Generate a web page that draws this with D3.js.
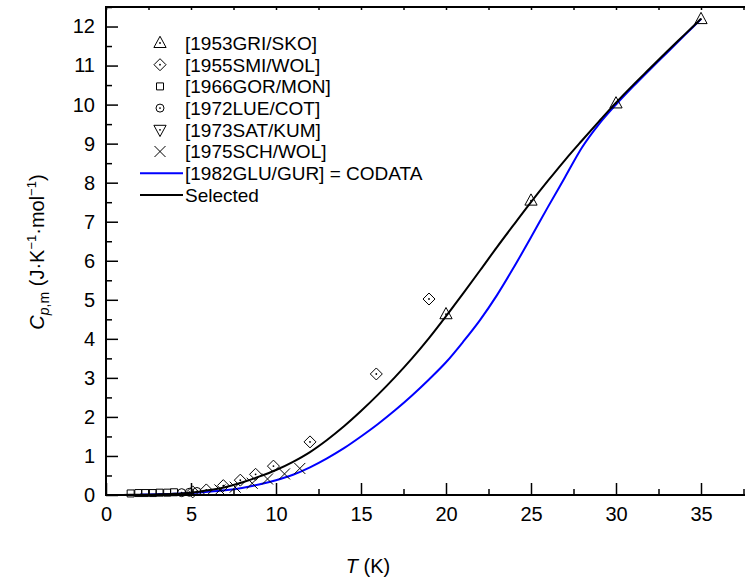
<!DOCTYPE html>
<html>
<head>
<meta charset="utf-8">
<script src="https://cdn.jsdelivr.net/npm/d3@7"></script>
<style>
  body { margin: 0; background: #fff; }
  svg { display: block; font-family: "Liberation Sans", Arial, sans-serif; }
</style>
</head>
<body>
<svg id="chart" width="745" height="586"></svg>
<script>
// selected curve (black)
var selT  = [0, 1, 2, 3, 4, 5, 6, 7, 8, 9, 10, 11, 12, 13, 14, 15, 16, 17, 18, 19, 20, 21, 22, 23, 24, 25, 26, 27, 28, 29, 30, 31, 32, 33, 34, 35]
var selCp = [0, 0.002, 0.006, 0.015, 0.03, 0.06, 0.12, 0.2, 0.32, 0.47, 0.64, 0.85, 1.1, 1.41, 1.76, 2.15, 2.57, 3.02, 3.5, 4.02, 4.58, 5.16, 5.75, 6.35, 6.93, 7.5, 8.05, 8.58, 9.08, 9.57, 10.05, 10.5, 10.93, 11.36, 11.78, 12.2]

// 1982GLU/GUR = CODATA (blue)
var codT  = [2, 3, 4, 5, 6, 7, 8, 9, 10, 11, 12, 13, 14, 15, 16, 17, 18, 19, 20, 21, 22, 23, 24, 25, 26, 27, 28, 29, 30, 31, 32, 33, 34, 35]
var codCp = [0.01, 0.02, 0.03, 0.05, 0.08, 0.12, 0.18, 0.27, 0.38, 0.52, 0.71, 0.94, 1.2, 1.5, 1.82, 2.17, 2.55, 2.96, 3.4, 3.92, 4.48, 5.12, 5.84, 6.6, 7.38, 8.14, 8.9, 9.5, 10.0, 10.46, 10.9, 11.33, 11.76, 12.19]

// experimental points
var griT  = [20, 25, 30, 35]
var griCp = [4.63, 7.54, 10.03, 12.19]
var smiT  = [5.1, 5.9, 6.9, 7.9, 8.8, 9.85, 12.0, 15.9, 19.0]
var smiCp = [0.08, 0.13, 0.24, 0.38, 0.53, 0.74, 1.36, 3.1, 5.02]
var gorT  = [1.45, 1.9, 2.3, 2.75, 3.15, 3.6, 4.0]
var gorCp = [0.04, 0.05, 0.05, 0.05, 0.06, 0.06, 0.07]
var lueT  = [4.45, 4.9, 5.35]
var lueCp = [0.06, 0.07, 0.09]
var satT  = []
var satCp = []
var schT  = [6.7, 7.6, 8.6, 9.5, 10.5, 11.4]
var schCp = [0.13, 0.2, 0.3, 0.41, 0.54, 0.68]

var xMajor = [0, 5, 10, 15, 20, 25, 30, 35]
var xMinor = [2.5, 7.5, 12.5, 17.5, 22.5, 27.5, 32.5, 37.5]
var yMajor = [0, 1, 2, 3, 4, 5, 6, 7, 8, 9, 10, 11, 12]
var yMinor = [0.5, 1.5, 2.5, 3.5, 4.5, 5.5, 6.5, 7.5, 8.5, 9.5, 10.5, 11.5, 12.5]

var legendLabels = ["[1953GRI/SKO]", "[1955SMI/WOL]", "[1966GOR/MON]", "[1972LUE/COT]",
                    "[1973SAT/KUM]", "[1975SCH/WOL]", "[1982GLU/GUR] = CODATA", "Selected"]

var svg = d3.select("#chart")
var pl = 106, pr = 752, pt = 7, pb = 495

var x = d3.scaleLinear().domain([0, 38]).range([pl, pr])
var y = d3.scaleLinear().domain([0, 12.5]).range([pb, pt])

function zip(a, b) { return a.map(function(v, i) { return [v, b[i]] }) }

svg.append("clipPath").attr("id", "clip")
  .append("rect").attr("x", pl).attr("y", pt).attr("width", pr - pl).attr("height", pb - pt)

// curves
var line = d3.line().x(function(d){ return x(d[0]) }).y(function(d){ return y(d[1]) }).curve(d3.curveMonotoneX)

var plot = svg.append("g").attr("clip-path", "url(#clip)")
plot.append("path").datum(zip(codT, codCp)).attr("d", line)
  .attr("fill", "none").attr("stroke", "#0000ff").attr("stroke-width", 2)
plot.append("path").datum(zip(selT, selCp)).attr("d", line)
  .attr("fill", "none").attr("stroke", "#000").attr("stroke-width", 2)

// marker shapes
function markerPath(type, s) {
  if (type == "triUp") return "M0," + (-s*0.75) + "L" + (s*0.68) + "," + (s*0.5) + "L" + (-s*0.68) + "," + (s*0.5) + "Z"
  if (type == "triDown") return "M0," + (s*0.75) + "L" + (s*0.68) + "," + (-s*0.5) + "L" + (-s*0.68) + "," + (-s*0.5) + "Z"
  if (type == "diamond") return "M0," + (-s) + "L" + s + ",0L0," + s + "L" + (-s) + ",0Z"
  if (type == "square") return "M" + (-s) + "," + (-s) + "h" + (2*s) + "v" + (2*s) + "h" + (-2*s) + "Z"
  if (type == "circle") return "M" + s + ",0A" + s + "," + s + " 0 1,1 " + (-s) + ",0A" + s + "," + s + " 0 1,1 " + s + ",0"
  if (type == "cross") return "M" + (-s) + "," + (-s) + "L" + s + "," + s + "M" + (-s) + "," + s + "L" + s + "," + (-s)
}

var series = [
  {T: griT, Cp: griCp, type: "triUp", s: 9, dot: true},
  {T: smiT, Cp: smiCp, type: "diamond", s: 6, dot: true},
  {T: gorT, Cp: gorCp, type: "square", s: 3.5, dot: false},
  {T: lueT, Cp: lueCp, type: "circle", s: 4, dot: true},
  {T: satT, Cp: satCp, type: "triDown", s: 9, dot: true},
  {T: schT, Cp: schCp, type: "cross", s: 5.5, dot: false}
]

function drawMarker(g, ser) {
  g.append("path").attr("d", markerPath(ser.type, ser.s))
    .attr("fill", "none").attr("stroke", "#000").attr("stroke-width", 1)
  if (ser.dot) g.append("circle").attr("r", 0.9).attr("fill", "#000")
}

series.forEach(function(ser) {
  zip(ser.T, ser.Cp).forEach(function(d) {
    var g = svg.append("g").attr("transform", "translate(" + x(d[0]) + "," + y(d[1]) + ")")
    drawMarker(g, ser)
  })
})

// axes
var tickFont = 20
svg.append("g").attr("transform", "translate(0," + pb + ")")
  .call(d3.axisBottom(x).tickValues(xMajor).tickFormat(d3.format("d")).tickSizeInner(-12).tickSizeOuter(0).tickPadding(12))
svg.append("g").attr("transform", "translate(0," + pb + ")")
  .call(d3.axisBottom(x).tickValues(xMinor).tickFormat("").tickSizeInner(-6).tickSizeOuter(0))
svg.append("g").attr("transform", "translate(0," + pt + ")")
  .call(d3.axisTop(x).tickValues(xMajor.concat(xMinor)).tickFormat("").tickSizeInner(-3).tickSizeOuter(0))
svg.append("g").attr("transform", "translate(" + pl + ",0)")
  .call(d3.axisLeft(y).tickValues(yMajor).tickFormat(d3.format("d")).tickSizeInner(-12).tickSizeOuter(0).tickPadding(11))
svg.append("g").attr("transform", "translate(" + pl + ",0)")
  .call(d3.axisLeft(y).tickValues(yMinor).tickFormat("").tickSizeInner(-6).tickSizeOuter(0))

svg.selectAll(".domain").remove()
svg.selectAll(".tick line").attr("stroke", "#000").attr("stroke-width", 1.5)
svg.selectAll(".tick text").attr("font-size", tickFont).attr("fill", "#000")
  .attr("font-family", "Liberation Sans, Arial, sans-serif")

// frame
svg.append("rect").attr("x", pl).attr("y", pt).attr("width", pr - pl).attr("height", pb - pt)
  .attr("fill", "none").attr("stroke", "#000").attr("stroke-width", 2)

// axis titles
var xt = svg.append("text").attr("x", 368).attr("y", 573).attr("text-anchor", "middle")
  .attr("font-size", tickFont)
xt.append("tspan").attr("font-style", "italic").text("T")
xt.append("tspan").text(" (K)")

var yt = svg.append("text").attr("transform", "translate(44,252) rotate(-90)")
  .attr("text-anchor", "middle").attr("font-size", tickFont)
yt.append("tspan").attr("font-style", "italic").text("C")
yt.append("tspan").attr("font-size", 14).attr("dy", 5).attr("font-style", "italic").text("p")
yt.append("tspan").attr("font-size", 14).text(",m")
yt.append("tspan").attr("dy", -5).text(" (J·K")
yt.append("tspan").attr("font-size", 13).attr("dy", -8).text("−1")
yt.append("tspan").attr("dy", 8).text("·mol")
yt.append("tspan").attr("font-size", 13).attr("dy", -8).text("−1")
yt.append("tspan").attr("dy", 8).text(")")

// legend
var legY0 = 43, legDy = 21.7
var legend = svg.append("g")
legendLabels.forEach(function(lab, i) {
  var ly = legY0 + i * legDy
  if (i < series.length) {
    drawMarker(legend.append("g").attr("transform", "translate(160," + ly + ")"), series[i])
  } else {
    legend.append("line").attr("x1", 140).attr("x2", 183).attr("y1", ly).attr("y2", ly)
      .attr("stroke", i == 6 ? "#0000ff" : "#000").attr("stroke-width", 2)
  }
  legend.append("text").attr("x", 185).attr("y", ly).attr("dy", "0.36em")
    .attr("font-size", 19).text(lab)
})
</script>
</body>
</html>
